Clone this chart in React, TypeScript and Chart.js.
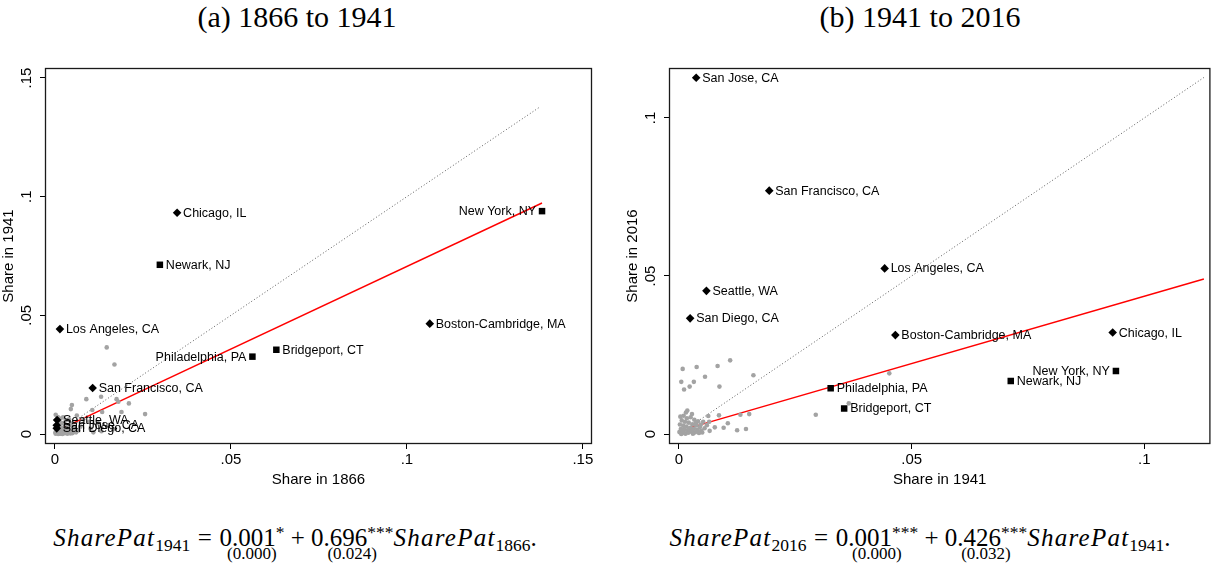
import React, { useEffect, useRef } from 'react';
import { Chart, registerables } from 'chart.js';

Chart.register(...registerables);

// ---------- Data ----------
const cityNames = [
  'Chicago, IL', 'Newark, NJ', 'Los Angeles, CA', 'San Francisco, CA', 'Philadelphia, PA',
  'Bridgeport, CT', 'Seattle, WA', 'San Jose, CA', 'San Diego, CA', 'New York, NY', 'Boston-Cambridge, MA',
];
const cityMarkers = ['diamond', 'square', 'diamond', 'diamond', 'square', 'square', 'diamond', 'diamond', 'diamond', 'square', 'diamond'];
const share1866 = [0.0347, 0.0298, 0.0014, 0.0107, 0.0561, 0.0629, 0.0006, 0.0005, 0.0005, 0.1384, 0.1065];
const share1941 = [0.0932, 0.0713, 0.0442, 0.0194, 0.0326, 0.0355, 0.0059, 0.0037, 0.0024, 0.0939, 0.0465];
const share2016 = [0.0321, 0.0168, 0.0524, 0.0770, 0.0145, 0.0081, 0.0453, 0.1127, 0.0366, 0.0199, 0.0313];

const labelSideA = ['r', 'r', 'r', 'r', 'l', 'r', 'r', 'r', 'r', 'l', 'r'];
const labelSideB = ['r', 'r', 'r', 'r', 'r', 'r', 'r', 'r', 'r', 'l', 'r'];

// other cities, panel (a): [share 1866, share 1941]
const otherCitiesA = [
  [0.0147, 0.0365], [0.0169, 0.0293], [0.0131, 0.0157], [0.0089, 0.0147], [0.0175, 0.0147],
  [0.0180, 0.0136], [0.0210, 0.0129], [0.0048, 0.0122], [0.0045, 0.0105], [0.0106, 0.0101],
  [0.0134, 0.0093], [0.0189, 0.0093], [0.0256, 0.0084], [0.0109, 0.0007], [0.0062, 0.0078],
  [0.0080, 0.0062], [0.0097, 0.0052], [0.0122, 0.0046], [0.0151, 0.0038], [0.0072, 0.0031],
  [0.0101, 0.0022], [0.0132, 0.0012], [0.0165, 0.0020],
  [0.0002, 0.0081], [0.0008, 0.0072], [0.0015, 0.0065], [0.0023, 0.0070], [0.0031, 0.0058],
  [0.0040, 0.0062], [0.0012, 0.0050], [0.0020, 0.0046], [0.0028, 0.0041], [0.0036, 0.0037],
  [0.0046, 0.0044], [0.0053, 0.0030], [0.0006, 0.0035], [0.0014, 0.0030], [0.0022, 0.0026],
  [0.0030, 0.0022], [0.0039, 0.0020], [0.0048, 0.0017], [0.0057, 0.0012], [0.0003, 0.0018],
  [0.0010, 0.0015], [0.0017, 0.0012], [0.0025, 0.0010], [0.0033, 0.0008], [0.0042, 0.0006],
  [0.0050, 0.0004], [0.0001, 0.0006], [0.0007, 0.0004], [0.0013, 0.0002], [0.0019, 0.0005],
  [0.0027, 0.0003], [0.0035, 0.0001], [0.0044, 0.0002], [0.0004, 0.0011], [0.0011, 0.0008],
  [0.0016, 0.0020], [0.0024, 0.0016], [0.0032, 0.0013], [0.0005, 0.0025], [0.0002, 0.0001],
  [0.0009, 0.0000], [0.0015, 0.0001], [0.0021, 0.0000], [0.0029, 0.0006], [0.0038, 0.0011],
  [0.0060, 0.0007], [0.0067, 0.0015], [0.0055, 0.0023],
];

// other cities, panel (b): [share 1941, share 2016]
const otherCitiesB = [
  [0.0008, 0.0206], [0.0038, 0.0212], [0.0083, 0.0215], [0.0110, 0.0233], [0.0005, 0.0165],
  [0.0032, 0.0165], [0.0056, 0.0181], [0.0023, 0.0150], [0.0011, 0.0141], [0.0087, 0.0150],
  [0.0160, 0.0186], [0.0452, 0.0192], [0.0365, 0.0097], [0.0294, 0.0061], [0.0125, 0.0012],
  [0.0144, 0.0016], [0.0132, 0.0061], [0.0151, 0.0063], [0.0096, 0.0020], [0.0086, 0.0059],
  [0.0063, 0.0057], [0.0018, 0.0074], [0.0028, 0.0063], [0.0065, 0.0039], [0.0052, 0.0039],
  [0.0105, 0.0034], [0.0077, 0.0021], [0.0066, 0.0010],
  [0.0003, 0.0055], [0.0010, 0.0058], [0.0017, 0.0050], [0.0025, 0.0053], [0.0033, 0.0045],
  [0.0041, 0.0040], [0.0006, 0.0043], [0.0013, 0.0039], [0.0021, 0.0036], [0.0029, 0.0031],
  [0.0037, 0.0027], [0.0045, 0.0022], [0.0002, 0.0030], [0.0009, 0.0027], [0.0016, 0.0024],
  [0.0024, 0.0020], [0.0032, 0.0017], [0.0040, 0.0013], [0.0048, 0.0010], [0.0004, 0.0016],
  [0.0011, 0.0013], [0.0018, 0.0010], [0.0026, 0.0007], [0.0034, 0.0005], [0.0043, 0.0003],
  [0.0001, 0.0006], [0.0007, 0.0003], [0.0014, 0.0001], [0.0020, 0.0004], [0.0030, 0.0001],
  [0.0038, 0.0008], [0.0050, 0.0005], [0.0005, 0.0000], [0.0012, 0.0020], [0.0022, 0.0014],
  [0.0028, 0.0011], [0.0036, 0.0034], [0.0047, 0.0030], [0.0055, 0.0018], [0.0060, 0.0028],
  [0.0015, 0.0068], [0.0008, 0.0010],
];

// fitted lines: [intercept, slope], x-range
const fitCoefA = [0.001, 0.696];
const fitRangeA = [0, 0.1384];
const fitCoefB = [0.001, 0.426];
const fitRangeB = [0.0028, 0.1128];
// 45-degree reference lines
const diagRangeA = [0, 0.1377];
const diagRangeB = [0, 0.1128];

// ticks
const xTicksA = [0, 0.05, 0.1, 0.15];
const xTickLabelsA = ['0', '.05', '.1', '.15'];
const yTicksA = [0, 0.05, 0.1, 0.15];
const yTickLabelsA = ['0', '.05', '.1', '.15'];
const xTicksB = [0, 0.05, 0.1];
const xTickLabelsB = ['0', '.05', '.1'];
const yTicksB = [0, 0.05, 0.1];
const yTickLabelsB = ['0', '.05', '.1'];

// ---------- Chart helpers ----------
const SANS = '"Liberation Sans", Arial, Helvetica, sans-serif';
const SERIF = '"Liberation Serif", "Times New Roman", serif';

const labelPlugin = {
  id: 'cityLabels',
  afterDatasetsDraw(chart: any, _args: any, opts: any) {
    const meta = chart.getDatasetMeta(0);
    const ctx = chart.ctx;
    ctx.save();
    ctx.font = `12.5px ${SANS}`;
    ctx.fillStyle = '#000';
    ctx.textBaseline = 'middle';
    meta.data.forEach((pt: any, i: number) => {
      const name = cityNames[i];
      if (opts.sides[i] === 'l') {
        ctx.textAlign = 'right';
        ctx.fillText(name, pt.x - 6, pt.y + 0.5);
      } else {
        ctx.textAlign = 'left';
        ctx.fillText(name, pt.x + 6, pt.y + 0.5);
      }
    });
    ctx.restore();
  },
};

const decorPlugin = {
  id: 'stataDecor',
  afterDraw(chart: any, _args: any, opts: any) {
    const { ctx, chartArea: ca, scales } = chart;
    const xs = scales.x;
    const ys = scales.y;
    ctx.save();
    ctx.strokeStyle = '#1a1a1a';
    ctx.lineWidth = 1.3;
    ctx.strokeRect(ca.left + 0.5, ca.top + 0.5, ca.right - ca.left - 1, ca.bottom - ca.top - 1);

    ctx.fillStyle = '#000';
    ctx.font = `15px ${SANS}`;
    ctx.textAlign = 'center';
    ctx.textBaseline = 'middle';
    opts.xTicks.forEach((v: number, i: number) => {
      ctx.fillText(opts.xLabels[i], xs.getPixelForValue(v), ca.bottom + 16);
    });
    ctx.fillText(opts.xTitle, (ca.left + ca.right) / 2, ca.bottom + 36);

    opts.yTicks.forEach((v: number, i: number) => {
      ctx.save();
      ctx.translate(ca.left - 18, ys.getPixelForValue(v));
      ctx.rotate(-Math.PI / 2);
      ctx.fillText(opts.yLabels[i], 0, 0);
      ctx.restore();
    });
    ctx.save();
    ctx.translate(ca.left - 36, (ca.top + ca.bottom) / 2);
    ctx.rotate(-Math.PI / 2);
    ctx.fillText(opts.yTitle, 0, 0);
    ctx.restore();
    ctx.restore();
  },
};

function buildConfig(p: any): any {
  const named = cityNames.map((_, i) => ({ x: p.xs[i], y: p.ys[i] }));
  const others = p.others.map((d: number[]) => ({ x: d[0], y: d[1] }));
  const fit = p.fitRange.map((x: number) => ({ x, y: p.coef[0] + p.coef[1] * x }));
  const diag = p.diagRange.map((v: number) => ({ x: v, y: v }));
  const axisCommon = {
    type: 'linear',
    ticks: { color: 'rgba(0,0,0,0)', autoSkip: false, font: { size: 15, family: SANS } },
    grid: { drawOnChartArea: false, drawTicks: true, tickLength: 5, color: '#000', lineWidth: 1 },
    border: { display: false },
  };
  return {
    type: 'scatter',
    data: {
      datasets: [
        {
          data: named,
          pointStyle: cityMarkers.map((m) => (m === 'square' ? 'rect' : 'rectRot')),
          pointRadius: cityMarkers.map((m) => (m === 'square' ? 4.6 : 4.3)),
          backgroundColor: '#000',
          borderWidth: 0,
        },
        {
          data: others,
          pointStyle: 'circle',
          pointRadius: 2.3,
          backgroundColor: '#a3a3a3',
          borderWidth: 0,
        },
        {
          data: fit,
          showLine: true,
          borderColor: '#ff0000',
          borderWidth: 1.4,
          pointRadius: 0,
          fill: false,
        },
        {
          data: diag,
          showLine: true,
          borderColor: '#5a5a5a',
          borderWidth: 1,
          borderDash: [1, 2.2],
          pointRadius: 0,
          fill: false,
        },
      ],
    },
    options: {
      responsive: false,
      animation: false,
      events: [],
      layout: { padding: { left: 0, top: 28, right: p.padRight, bottom: 0 } },
      plugins: {
        legend: { display: false },
        tooltip: { enabled: false },
        cityLabels: { sides: p.sides },
        stataDecor: {
          xTicks: p.xTicks, xLabels: p.xLabels, yTicks: p.yTicks, yLabels: p.yLabels,
          xTitle: p.xTitle, yTitle: p.yTitle,
        },
      },
      scales: {
        x: {
          ...axisCommon,
          position: 'bottom',
          min: p.xMin,
          max: p.xMax,
          afterBuildTicks: (s: any) => { s.ticks = p.xTicks.map((v: number) => ({ value: v })); },
          afterFit: (s: any) => { s.height = 56; },
        },
        y: {
          ...axisCommon,
          position: 'left',
          min: p.yMin,
          max: p.yMax,
          afterBuildTicks: (s: any) => { s.ticks = p.yTicks.map((v: number) => ({ value: v })); },
          afterFit: (s: any) => { s.width = p.yWidth; },
        },
      },
    },
    plugins: [labelPlugin, decorPlugin],
  };
}

const panelA = {
  xs: share1866, ys: share1941, others: otherCitiesA, coef: fitCoefA, fitRange: fitRangeA,
  diagRange: diagRangeA, sides: labelSideA,
  xTicks: xTicksA, xLabels: xTickLabelsA, yTicks: yTicksA, yLabels: yTickLabelsA,
  xTitle: 'Share in 1866', yTitle: 'Share in 1941',
  xMin: -0.00284, xMax: 0.1526, yMin: -0.0042, yMax: 0.1542, yWidth: 45, padRight: 15,
};
const panelB = {
  xs: share1941, ys: share2016, others: otherCitiesB, coef: fitCoefB, fitRange: fitRangeB,
  diagRange: diagRangeB, sides: labelSideB,
  xTicks: xTicksB, xLabels: xTickLabelsB, yTicks: yTicksB, yLabels: yTickLabelsB,
  xTitle: 'Share in 1941', yTitle: 'Share in 2016',
  xMin: -0.00214, xMax: 0.1142, yMin: -0.00316, yMax: 0.1158, yWidth: 62, padRight: 1,
};

function Panel({ cfg, left, width }: { cfg: any; left: number; width: number }) {
  const ref = useRef<HTMLCanvasElement>(null);
  useEffect(() => {
    if (!ref.current) return;
    const chart = new Chart(ref.current, buildConfig(cfg));
    return () => chart.destroy();
  }, [cfg]);
  return (
    <canvas
      ref={ref}
      width={width}
      height={460}
      style={{ position: 'absolute', left, top: 40, width, height: 460 }}
    />
  );
}

const ital: React.CSSProperties = { fontStyle: 'italic', letterSpacing: '0.05em' };
const sub: React.CSSProperties = { fontSize: '0.7em', fontStyle: 'normal', position: 'relative', top: '0.28em' };
const sup: React.CSSProperties = { fontSize: '0.7em', fontStyle: 'normal', position: 'relative', top: '-0.45em' };

function Under({ se, children }: { se: string; children: React.ReactNode }) {
  return (
    <span style={{ position: 'relative', display: 'inline-block' }}>
      {children}
      <span
        style={{
          position: 'absolute', left: '50%', transform: 'translateX(-50%)', top: '1.2em',
          fontSize: '0.68em', whiteSpace: 'nowrap', fontStyle: 'normal',
        }}
      >
        {se}
      </span>
    </span>
  );
}

function Equation({ lhsYear, b0, b0stars, b0se, b1, b1stars, b1se, rhsYear, left, width }: any) {
  return (
    <div
      style={{
        position: 'absolute', left, width, top: 525, textAlign: 'center',
        fontFamily: SERIF, fontSize: 25, lineHeight: 1, whiteSpace: 'nowrap', color: '#000',
      }}
    >
      <span style={ital}>SharePat</span>
      <span style={sub}>{lhsYear}</span>
      <span style={{ margin: '0 0.3em' }}>=</span>
      <Under se={b0se}>
        {b0}
        <span style={sup}>{b0stars}</span>
      </Under>
      <span style={{ margin: '0 0.25em' }}>+</span>
      <Under se={b1se}>
        {b1}
        <span style={sup}>{b1stars}</span>
      </Under>
      <span style={ital}>SharePat</span>
      <span style={sub}>{rhsYear}</span>.
    </div>
  );
}

export default function App() {
  const titleStyle: React.CSSProperties = {
    position: 'absolute', top: 0, textAlign: 'center', fontFamily: SERIF,
    fontSize: 30, lineHeight: '34px', color: '#000', whiteSpace: 'nowrap',
  };
  return (
    <div
      style={{
        position: 'fixed', left: 0, top: 0, width: 1215, height: 566,
        background: '#fff', overflow: 'hidden',
      }}
    >
      <div style={{ ...titleStyle, left: 0, width: 594 }}>(a) 1866 to 1941</div>
      <div style={{ ...titleStyle, left: 607, width: 626 }}>(b) 1941 to 2016</div>
      <Panel cfg={panelA} left={0} width={607} />
      <Panel cfg={panelB} left={607} width={608} />
      <Equation lhsYear="1941" b0="0.001" b0stars="*" b0se="(0.000)" b1="0.696" b1stars="***"
        b1se="(0.024)" rhsYear="1866" left={0} width={590} />
      <Equation lhsYear="2016" b0="0.001" b0stars="***" b0se="(0.000)" b1="0.426" b1stars="***"
        b1se="(0.032)" rhsYear="1941" left={607} width={626} />
    </div>
  );
}
